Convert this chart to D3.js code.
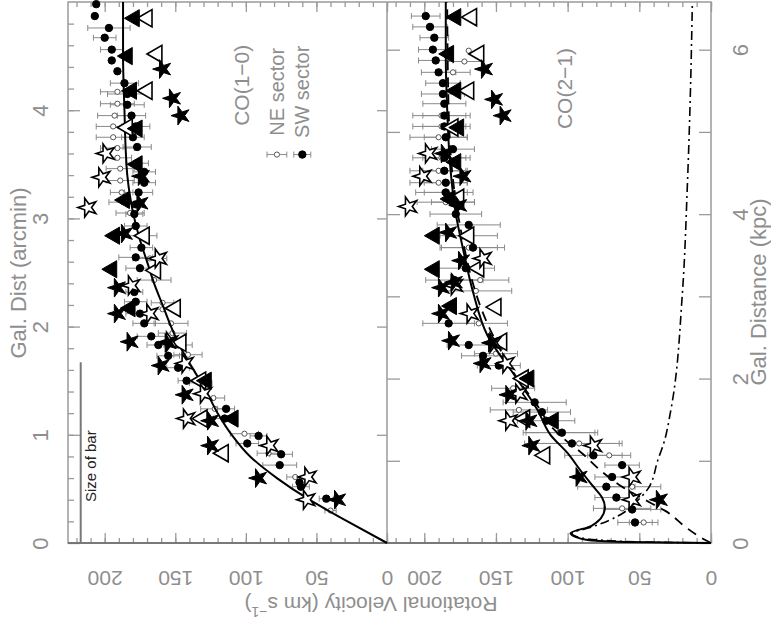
<!DOCTYPE html>
<html><head><meta charset="utf-8">
<script src="https://cdn.jsdelivr.net/npm/d3@7"></script>
<style>body{margin:0;background:#fff}svg{display:block}</style>
</head><body>
<svg id="c" width="771" height="621"></svg>
<script>
// ---------- DATA ----------
const velTicks = [0, 50, 100, 150, 200];
const arcminTicks = [0, 1, 2, 3, 4];
const kpcTicks = [0, 1, 2, 3, 4, 5, 6];
const kpcLabels = [0, 2, 4, 6];
const arcminToKpc = 1.316;
const sizeOfBar = 1.67; // arcmin

// CO(1-0) panel: [r arcmin, v km/s, error]
const co10_sw = [[0.41,43,5],[0.52,61,6],[0.56,62,0],[0.72,76,12],[0.82,75,8],[0.92,99,8],[0.99,91,6],[1.15,115,8],[1.24,114,6],[1.50,142,6],[1.62,148,8],[1.73,155,8],[1.83,162,8],[1.91,167,10],[2.03,172,8],[2.12,175,10],[2.23,178,8],[2.32,179,6],[2.54,175,10],[2.64,178,12],[2.73,174,8],[2.93,178,8],[3.04,179,6],[3.13,178,6],[3.24,176,10],[3.33,172,8],[3.43,172,8],[3.51,177,8],[3.66,177,10],[3.75,180,8],[3.85,178,10],[3.95,181,10],[4.05,184,12],[4.15,184,14],[4.25,186,10],[4.36,191,0],[4.46,195,0],[4.56,195,8],[4.67,200,8],[4.76,197,15],[4.87,207,0],[4.98,206,0]];
const co10_ne = [[0.30,40,4],[0.61,65,6],[0.83,84,8],[1.01,101,10],[1.24,122,10],[1.34,123,8],[1.48,132,8],[1.74,141,10],[1.83,148,10],[1.94,152,10],[2.03,153,12],[2.16,159,10],[2.22,159,8],[2.43,165,12],[2.63,168,12],[2.84,175,12],[3.05,182,10],[3.15,187,10],[3.24,188,8],[3.35,189,10],[3.46,189,10],[3.56,191,10],[3.65,191,12],[3.75,194,12],[3.85,194,12],[3.95,193,12],[4.06,191,12],[4.17,191,12]];
const co10_triFilled = [[1.15,109],[1.50,128],[2.17,182],[2.53,195],[2.84,193],[3.17,186],[3.50,177],[3.83,177],[4.18,181],[4.50,184],[4.85,179]];
const co10_triOpen = [[0.83,116],[1.15,131],[1.50,132],[1.85,146],[2.17,150],[2.52,164],[2.84,172],[3.84,184],[4.18,170],[4.52,163],[4.85,170]];
const co10_starFilled = [[0.40,35],[0.60,91],[0.90,125],[1.13,125],[1.37,143],[1.64,160],[1.85,155],[1.86,182],[2.12,191],[2.36,191],[2.86,186],[3.14,175],[3.39,174],[3.95,146],[4.11,152],[4.38,159]];
const co10_starOpen = [[0.40,57],[0.61,56],[0.90,83],[1.15,142],[1.38,130],[1.66,143],[1.86,154],[2.12,168],[2.38,181],[2.63,162],[3.10,212],[3.38,202],[3.60,199]];
const co10_model = [[0,0],[0.2,28],[0.4,55],[0.6,78],[0.8,97],[1.0,110],[1.2,120],[1.4,128],[1.6,137],[1.8,146],[2.0,153],[2.2,159],[2.4,165],[2.6,170],[2.8,175],[3.0,179],[3.2,182],[3.4,184],[3.6,185],[4.0,186],[4.5,187],[5.0,187]];

// CO(2-1) panel
const co21_sw = [[0.19,53,12],[0.31,55,20],[0.42,66,15],[0.52,73,20],[0.61,69,12],[0.72,62,12],[0.81,82,20],[0.92,97,33],[1.02,104,25],[1.13,115,20],[1.21,118,20],[1.30,123,22],[1.64,148,15],[1.73,159,15],[1.83,169,15],[2.03,183,18],[2.43,179,20],[2.54,171,20],[2.73,166,22],[2.94,169,22],[3.04,178,18],[3.15,180,15],[3.24,185,15],[3.33,185,15],[3.44,186,15],[3.56,186,15],[3.64,180,15],[3.75,185,15],[3.85,186,15],[3.95,186,15],[4.06,186,15],[4.15,187,15],[4.25,187,12],[4.35,190,12],[4.46,192,12],[4.56,194,10],[4.67,193,10],[4.77,196,12],[4.87,199,10]];
const co21_ne = [[0.19,47,10],[0.32,62,20],[0.52,55,20],[0.81,71,15],[0.92,92,30],[1.02,106,25],[1.23,134,20],[1.43,138,15],[1.75,150,15],[2.03,162,20],[2.33,164,25],[2.43,161,20],[2.73,169,20],[2.84,169,20],[3.15,185,20],[3.24,186,20],[3.33,190,20],[3.44,190,20],[3.56,188,20],[3.75,190,20],[3.85,188,20],[3.95,188,20],[4.35,180,12],[4.45,172,12],[4.55,169,0]];
const co21_triFilled = [[1.13,110],[1.52,127],[2.19,181],[2.53,193],[2.84,193],[3.18,182],[3.52,178],[3.84,176],[4.18,178],[4.52,183],[4.86,178]];
const co21_triOpen = [[0.81,116],[1.15,130],[1.52,131],[1.86,146],[2.18,150],[2.54,162],[2.84,169],[3.19,176],[3.84,180],[4.18,169],[4.52,162],[4.86,167]];
const co21_starFilled = [[0.40,36],[0.61,92],[0.90,125],[1.13,127],[1.37,141],[1.66,159],[1.85,153],[1.87,181],[2.12,188],[2.36,188],[2.41,179],[2.61,174],[2.87,183],[3.12,176],[3.39,173],[3.60,186],[3.95,145],[4.10,151],[4.38,158]];
const co21_starOpen = [[0.40,55],[0.61,55],[0.90,82],[1.13,141],[1.38,134],[1.66,143],[1.85,152],[2.12,168],[2.38,179],[2.63,159],[3.11,211],[3.39,201],[3.60,197]];
const co21_model = [[0,0],[0.005,30],[0.01,60],[0.02,80],[0.03,87],[0.06,95],[0.09,98],[0.12,93],[0.14,87],[0.2,79],[0.27,75],[0.33,74],[0.42,76],[0.52,82],[0.67,91],[0.83,100],[1.0,112],[1.23,121],[1.53,136],[1.92,156],[2.32,166],[2.72,173],[3.04,178],[3.5,182],[4.0,184],[4.5,185],[5.0,185]];
const co21_dashed = [[0,0],[0.05,7],[0.15,18],[0.29,31],[0.37,42],[0.52,62],[0.67,77],[0.83,90],[0.98,104],[1.1,113],[1.23,119],[1.5,134],[2.0,155],[3.0,176],[4.0,183],[5.0,184]];
const co21_dashdot = [[0,0],[0.01,50],[0.03,80],[0.06,94],[0.09,97],[0.14,85],[0.21,71],[0.28,61],[0.37,53],[0.5,44],[0.77,37],[0.92,33],[1.23,28],[2.3,20],[3.3,16.5],[4.1,14.5],[5.0,13]];

// ---------- SCALES ----------
const svg = d3.select("#c");
svg.append("rect").attr("width",771).attr("height",621).attr("fill","#fff");
const y = d3.scaleLinear().domain([0,5]).range([543,2]);
const yk = d3.scaleLinear().domain([0,5*arcminToKpc]).range([543,2]);
const xTop = d3.scaleLinear().domain([0,226]).range([387,68]);
const xBot = d3.scaleLinear().domain([0,226]).range([711,387]);

const axisCol = "#9a9a9a", textCol = "#8e8e8e", font = "Liberation Sans, Arial, sans-serif";

function styleAxis(g){
  g.select(".domain").remove();
  g.selectAll(".tick line").attr("stroke",axisCol).attr("stroke-width",1.3);
  g.selectAll("text").attr("fill",textCol).attr("font-family",font).attr("font-size",21);
}

// velocity axes (bottom + top edges) for each panel
[xTop,xBot].forEach(xs=>{
  const minor = d3.range(0,227,10);
  [["b",y(0)],["t",y(5)]].forEach(([side,pos])=>{
    const mk = side==="b" ? d3.axisBottom : d3.axisTop;
    const gm = svg.append("g").attr("transform",`translate(0,${pos})`)
      .call(mk(xs).tickValues(minor).tickSizeInner(-5).tickSizeOuter(0).tickFormat(""));
    styleAxis(gm);
    const gM = svg.append("g").attr("transform",`translate(0,${pos})`)
      .call(mk(xs).tickValues(velTicks).tickSizeInner(-10).tickSizeOuter(0).tickFormat(side==="b"?d3.format("d"):""));
    styleAxis(gM);
    if(side==="b"){
      gM.selectAll(".tick text").attr("y",null).attr("dy",null)
        .attr("text-anchor","middle").attr("dominant-baseline","central")
        .attr("transform","translate(0,35) rotate(180)");
    }
  });
});

// left arcmin axis
{
  const gm = svg.append("g").attr("transform",`translate(${xTop(226)},0)`)
    .call(d3.axisLeft(y).tickValues(d3.range(0.2,5,0.2)).tickSizeInner(-6).tickSizeOuter(0).tickFormat(""));
  styleAxis(gm);
  const gM = svg.append("g").attr("transform",`translate(${xTop(226)},0)`)
    .call(d3.axisLeft(y).tickValues(arcminTicks).tickSizeInner(-12).tickSizeOuter(0).tickFormat(d3.format("d")));
  styleAxis(gM);
  gM.selectAll(".tick text").attr("x",null).attr("dy",null)
    .attr("text-anchor","middle").attr("dominant-baseline","central").attr("font-size",22)
    .attr("transform","translate(-28,0) rotate(-90)");
  const gR = svg.append("g").attr("transform",`translate(${xTop(0)},0)`)
    .call(d3.axisRight(y).tickValues(arcminTicks.slice(1)).tickSizeInner(-10).tickSizeOuter(0).tickFormat(""));
  styleAxis(gR);
}
// kpc axes on bottom panel
{
  const gL = svg.append("g").attr("transform",`translate(${xBot(226)},0)`)
    .call(d3.axisLeft(yk).tickValues(kpcTicks.slice(1)).tickSizeInner(-13).tickSizeOuter(0).tickFormat(""));
  styleAxis(gL);
  const gR = svg.append("g").attr("transform",`translate(${xBot(0)},0)`)
    .call(d3.axisRight(yk).tickValues(kpcTicks).tickSizeInner(-12).tickSizeOuter(0)
      .tickFormat(d=>kpcLabels.includes(d)?d:""));
  styleAxis(gR);
  gR.selectAll(".tick text").attr("x",null).attr("dy",null)
    .attr("text-anchor","middle").attr("dominant-baseline","central").attr("font-size",22)
    .attr("transform","translate(29,0) rotate(-90)");
}

// frame
svg.append("rect").attr("x",xTop(226)).attr("y",y(5)).attr("width",xBot(0)-xTop(226)).attr("height",y(0)-y(5))
  .attr("fill","none").attr("stroke",axisCol).attr("stroke-width",1.5);
svg.append("line").attr("x1",xTop(0)).attr("x2",xTop(0)).attr("y1",y(5)).attr("y2",y(0))
  .attr("stroke",axisCol).attr("stroke-width",1.5);
svg.append("line").attr("x1",xTop(226)).attr("x2",xBot(0)).attr("y1",y(0)).attr("y2",y(0))
  .attr("stroke","#666").attr("stroke-width",1.5);

// axis titles
function rotText(x,yy,txt,rot,size,col,weight){
  return svg.append("text").attr("transform",`translate(${x},${yy}) rotate(${rot})`)
    .attr("text-anchor","middle").attr("dominant-baseline","central")
    .attr("font-family",font).attr("font-size",size).attr("fill",col||textCol)
    .attr("font-weight",weight||"normal").text(txt);
}
rotText(18, 273, "Gal. Dist (arcmin)", -90, 22);
rotText(758, 292, "Gal. Distance (kpc)", -90, 22);
const velTitle = rotText(371, 605, "", 180, 21);
velTitle.append("tspan").text("Rotational Velocity (km s");
velTitle.append("tspan").attr("dy",-7).attr("font-size",14).text("−1");
velTitle.append("tspan").attr("dy",7).text(")");

// ---------- MARKS ----------
const lineGen = xs => d3.line().x(d=>xs(d[1])).y(d=>y(d[0])).curve(d3.curveMonotoneY);

function errBars(xs, data, col){
  const g = svg.append("g").attr("stroke",col).attr("stroke-width",1).attr("fill","none");
  data.filter(d=>d[2]>0).forEach(d=>{
    const yy=y(d[0]), x1=xs(d[1]-d[2]), x2=xs(d[1]+d[2]);
    g.append("line").attr("x1",x1).attr("x2",x2).attr("y1",yy).attr("y2",yy);
    g.append("line").attr("x1",x1).attr("x2",x1).attr("y1",yy-3).attr("y2",yy+3);
    g.append("line").attr("x1",x2).attr("x2",x2).attr("y1",yy-3).attr("y2",yy+3);
  });
}
function circles(xs, data, r, fill, stroke){
  svg.append("g").selectAll("circle").data(data).join("circle")
    .attr("cx",d=>xs(d[1])).attr("cy",d=>y(d[0])).attr("r",r)
    .attr("fill",fill).attr("stroke",stroke).attr("stroke-width",1);
}
function symbols(xs, data, type, size, filled){
  svg.append("g").selectAll("path").data(data).join("path")
    .attr("d",d3.symbol(type,size)())
    .attr("transform",d=>`translate(${xs(d[1])},${y(d[0])}) rotate(-90)`)
    .attr("fill",filled?"#000":"#fff").attr("stroke","#000").attr("stroke-width",filled?1:1.6)
    .attr("stroke-linejoin","miter");
}

function panel(xs, sw, ne){
  errBars(xs, ne, "#8a8a8a");
  errBars(xs, sw, "#8a8a8a");
  circles(xs, ne, 2.6, "#fff", "#555");
  circles(xs, sw, 3.7, "#000", "#000");
}
panel(xTop, co10_sw, co10_ne);
panel(xBot, co21_sw, co21_ne);

// model curves
svg.append("path").datum(co10_model).attr("d",lineGen(xTop)).attr("fill","none").attr("stroke","#000").attr("stroke-width",2);
svg.append("path").datum(co21_dashdot).attr("d",lineGen(xBot)).attr("fill","none").attr("stroke","#000").attr("stroke-width",1.6).attr("stroke-dasharray","9,4,2,4");
svg.append("path").datum(co21_dashed).attr("d",lineGen(xBot)).attr("fill","none").attr("stroke","#000").attr("stroke-width",1.8).attr("stroke-dasharray","10,7");
svg.append("path").datum(co21_model).attr("d",lineGen(xBot)).attr("fill","none").attr("stroke","#000").attr("stroke-width",2);

// triangles and stars
symbols(xTop, co10_triOpen, d3.symbolTriangle, 128, false);
symbols(xTop, co10_triFilled, d3.symbolTriangle, 128, true);
symbols(xTop, co10_starOpen, d3.symbolStar, 110, false);
symbols(xTop, co10_starFilled, d3.symbolStar, 110, true);
symbols(xBot, co21_triOpen, d3.symbolTriangle, 128, false);
symbols(xBot, co21_triFilled, d3.symbolTriangle, 128, true);
symbols(xBot, co21_starOpen, d3.symbolStar, 110, false);
symbols(xBot, co21_starFilled, d3.symbolStar, 110, true);

// annotations
rotText(xTop(103), y(4.23), "CO(1−0)", -90, 21);
rotText(xTop(78), y(4.17), "NE sector", -90, 20);
rotText(xTop(60), y(4.17), "SW sector", -90, 20);
errBars(xTop, [[3.59,78,7],[3.59,60,6]], "#8a8a8a");
circles(xTop, [[3.59,78]], 2.6, "#fff", "#555");
circles(xTop, [[3.59,60]], 3.7, "#000", "#000");
rotText(xBot(102), y(4.2), "CO(2−1)", -90, 21);

// size-of-bar
svg.append("line").attr("x1",xTop(217)).attr("x2",xTop(217)).attr("y1",y(0)).attr("y2",y(sizeOfBar))
  .attr("stroke","#777").attr("stroke-width",2);
rotText(xTop(210), y(0.71), "Size of bar", -90, 15, "#222");
</script>
</body></html>
